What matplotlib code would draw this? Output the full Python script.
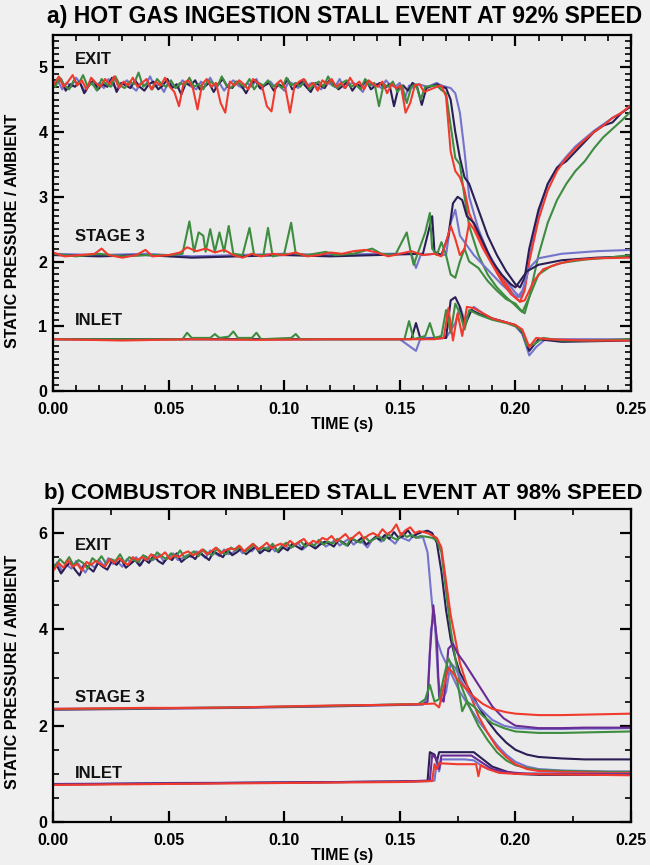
import numpy as np
import matplotlib
matplotlib.use("Agg")
import matplotlib.pyplot as plt
from matplotlib.ticker import MultipleLocator, FormatStrFormatter

# ---------------- DATA ----------------
titles = ["a) HOT GAS INGESTION STALL EVENT AT 92% SPEED",
          "b) COMBUSTOR INBLEED STALL EVENT AT 98% SPEED"]
group_labels = ["EXIT", "STAGE 3", "INLET"]
x_ticks = [0.00, 0.05, 0.10, 0.15, 0.20, 0.25]

# Panel a, EXIT: before the stall sampled every 2 ms (each trace with a small offset),
# then the event part on an explicit time list
a_exit_step = 0.002
a_exit_offsets = [0.0, -0.0005, -0.001, -0.0015]
a_exit_t_event = [0.166, 0.168, 0.170, 0.172, 0.174, 0.176, 0.178, 0.180, 0.184, 0.188,
                  0.192, 0.196, 0.200, 0.202, 0.204, 0.206, 0.210, 0.214, 0.218, 0.222,
                  0.226, 0.230, 0.234, 0.238, 0.242, 0.246, 0.250]

a_exit_blue = [4.72, 4.80, 4.66, 4.76, 4.70, 4.84, 4.74, 4.62, 4.78, 4.70,
               4.76, 4.68, 4.82, 4.72, 4.66, 4.74, 4.80, 4.70, 4.64, 4.76,
               4.72, 4.86, 4.70, 4.74, 4.62, 4.78, 4.72, 4.68, 4.80, 4.74,
               4.70, 4.66, 4.78, 4.72, 4.84, 4.70, 4.76, 4.64, 4.74, 4.80,
               4.72, 4.68, 4.76, 4.70, 4.82, 4.66, 4.74, 4.78, 4.70, 4.72,
               4.64, 4.78, 4.74, 4.68, 4.80, 4.72, 4.76, 4.70, 4.66, 4.78,
               4.74, 4.70, 4.82, 4.68, 4.74, 4.76, 4.70, 4.62, 4.78, 4.72,
               4.74, 4.68, 4.80, 4.72, 4.70, 4.76, 4.50, 4.72, 4.68, 4.74,
               4.72, 4.70,
               4.76, 4.72, 4.70, 4.68, 4.60, 4.30, 3.70, 3.00, 2.50, 2.15, 1.90, 1.70, 1.52, 1.45,
               1.60, 2.05, 2.75, 3.20, 3.45, 3.62, 3.78, 3.90, 4.02, 4.12, 4.22, 4.30, 4.40]
a_exit_dark = [4.68, 4.76, 4.82, 4.64, 4.74, 4.70, 4.78, 4.60, 4.72, 4.80,
               4.66, 4.74, 4.70, 4.84, 4.62, 4.76, 4.72, 4.68, 4.80, 4.70,
               4.64, 4.74, 4.78, 4.66, 4.72, 4.82, 4.68, 4.74, 4.58, 4.76,
               4.72, 4.80, 4.66, 4.70, 4.76, 4.62, 4.74, 4.82, 4.70, 4.68,
               4.78, 4.72, 4.60, 4.74, 4.80, 4.68, 4.72, 4.76, 4.64, 4.74,
               4.70, 4.82, 4.66, 4.72, 4.78, 4.70, 4.62, 4.76, 4.72, 4.68,
               4.80, 4.74, 4.66, 4.72, 4.78, 4.64, 4.74, 4.70, 4.80, 4.66,
               4.72, 4.76, 4.68, 4.74, 4.40, 4.70, 4.72, 4.64, 4.76, 4.70,
               4.42, 4.68,
               4.74, 4.70, 4.68, 4.50, 4.00, 3.60, 3.30, 3.20, 2.80, 2.40, 2.10, 1.85, 1.65, 1.60,
               1.75, 2.20, 2.80, 3.20, 3.45, 3.55, 3.70, 3.85, 4.00, 4.10, 4.15, 4.30, 4.40]
a_exit_green = [4.76, 4.70, 4.84, 4.72, 4.66, 4.80, 4.74, 4.88, 4.70, 4.76,
                4.64, 4.82, 4.74, 4.70, 4.86, 4.72, 4.68, 4.78, 4.74, 4.92,
                4.70, 4.76, 4.66, 4.82, 4.74, 4.70, 4.80, 4.68, 4.76, 4.72,
                4.84, 4.70, 4.74, 4.66, 4.80, 4.76, 4.70, 4.86, 4.72, 4.68,
                4.78, 4.74, 4.70, 4.82, 4.66, 4.76, 4.72, 4.80, 4.70, 4.74,
                4.68, 4.84, 4.72, 4.76, 4.70, 4.80, 4.66, 4.74, 4.78, 4.70,
                4.86, 4.72, 4.68, 4.76, 4.80, 4.70, 4.74, 4.66, 4.82, 4.72,
                4.76, 4.40, 4.74, 4.70, 4.78, 4.62, 4.72, 4.45, 4.70, 4.74,
                4.50, 4.70,
                4.72, 4.65, 4.60, 4.10, 3.60, 3.50, 3.00, 2.55, 2.10, 1.80, 1.60, 1.45, 1.32, 1.25,
                1.20, 1.45, 2.10, 2.60, 2.95, 3.20, 3.40, 3.55, 3.75, 3.92, 4.05, 4.18, 4.32]
a_exit_red = [4.82, 4.74, 4.86, 4.70, 4.78, 4.88, 4.72, 4.80, 4.66, 4.84,
              4.76, 4.70, 4.82, 4.74, 4.86, 4.68, 4.78, 4.72, 4.84, 4.70,
              4.76, 4.82, 4.66, 4.78, 4.72, 4.84, 4.70, 4.62, 4.40, 4.76,
              4.80, 4.68, 4.35, 4.74, 4.82, 4.70, 4.76, 4.45, 4.30, 4.78,
              4.72, 4.80, 4.74, 4.66, 4.82, 4.76, 4.70, 4.40, 4.32, 4.74,
              4.80, 4.68, 4.30, 4.72, 4.78, 4.82, 4.70, 4.76, 4.64, 4.80,
              4.74, 4.82, 4.70, 4.76, 4.68, 4.84, 4.72, 4.78, 4.66, 4.80,
              4.74, 4.70, 4.78, 4.60, 4.74, 4.68, 4.72, 4.30, 4.45, 4.72,
              4.74, 4.62,
              4.70, 4.72, 4.55, 3.70, 3.40, 3.30, 3.10, 2.75, 2.40, 2.10, 1.85, 1.65, 1.45, 1.38,
              1.55, 2.00, 2.65, 3.10, 3.40, 3.60, 3.75, 3.88, 4.00, 4.10, 4.22, 4.30, 4.42]

# Panel a, STAGE 3 (time, value) per trace
a_st3_blue_t = [0.000, 0.020, 0.040, 0.060, 0.080, 0.100, 0.120, 0.140, 0.155, 0.157, 0.159, 0.165,
                0.170, 0.172, 0.174, 0.176, 0.178, 0.182, 0.186, 0.190, 0.194, 0.198, 0.201, 0.203,
                0.206, 0.210, 0.220, 0.235, 0.250]
a_st3_blue_v = [2.12, 2.10, 2.12, 2.08, 2.10, 2.12, 2.10, 2.12, 2.12, 1.90, 2.10, 2.12,
                2.10, 2.60, 2.80, 2.40, 2.30, 2.10, 1.95, 1.80, 1.65, 1.52, 1.45, 1.55,
                1.90, 2.05, 2.12, 2.16, 2.18]
a_st3_dark_t = [0.000, 0.020, 0.040, 0.060, 0.080, 0.100, 0.120, 0.140, 0.160, 0.164, 0.165, 0.168,
                0.171, 0.173, 0.175, 0.177, 0.179, 0.182, 0.186, 0.190, 0.194, 0.198, 0.200, 0.202,
                0.205, 0.210, 0.220, 0.235, 0.250]
a_st3_dark_v = [2.10, 2.08, 2.10, 2.06, 2.08, 2.10, 2.08, 2.10, 2.12, 2.70, 2.15, 2.10,
                2.40, 2.90, 3.00, 2.95, 2.70, 2.60, 2.30, 2.00, 1.80, 1.65, 1.60, 1.70,
                1.85, 1.95, 2.02, 2.06, 2.08]
a_st3_green_t = [0.000, 0.010, 0.020, 0.030, 0.040, 0.050, 0.056, 0.059, 0.061, 0.063, 0.065, 0.066,
                 0.068, 0.070, 0.072, 0.074, 0.076, 0.078, 0.082, 0.085, 0.087, 0.091, 0.093, 0.095,
                 0.100, 0.103, 0.105, 0.110, 0.118, 0.122, 0.130, 0.138, 0.142, 0.148, 0.153, 0.155,
                 0.156, 0.158, 0.161, 0.163, 0.164, 0.166, 0.168, 0.170, 0.172, 0.174, 0.176, 0.178,
                 0.180, 0.184, 0.188, 0.192, 0.196, 0.200, 0.203, 0.206, 0.210, 0.215, 0.220, 0.230,
                 0.240, 0.250]
a_st3_green_v = [2.12, 2.08, 2.12, 2.08, 2.10, 2.10, 2.12, 2.62, 2.15, 2.45, 2.40, 2.15,
                 2.50, 2.15, 2.45, 2.15, 2.55, 2.12, 2.10, 2.52, 2.10, 2.10, 2.52, 2.08,
                 2.12, 2.60, 2.12, 2.10, 2.15, 2.10, 2.12, 2.20, 2.12, 2.10, 2.45, 2.10,
                 1.95, 2.15, 2.45, 2.75, 2.20, 2.10, 2.30, 2.10, 1.80, 1.75, 2.00, 2.20,
                 2.00, 1.90, 1.70, 1.55, 1.42, 1.35, 1.22, 1.45, 1.80, 1.92, 1.98, 2.03,
                 2.06, 2.10]
a_st3_red_t = [0.000, 0.005, 0.012, 0.018, 0.021, 0.024, 0.030, 0.036, 0.040, 0.043, 0.050, 0.055,
               0.058, 0.062, 0.066, 0.070, 0.074, 0.078, 0.082, 0.086, 0.090, 0.095, 0.100, 0.105,
               0.110, 0.115, 0.120, 0.125, 0.130, 0.135, 0.140, 0.145, 0.150, 0.155, 0.160, 0.165,
               0.168, 0.170, 0.172, 0.174, 0.176, 0.178, 0.180, 0.182, 0.186, 0.190, 0.194, 0.198,
               0.202, 0.204, 0.208, 0.212, 0.218, 0.225, 0.235, 0.250]
a_st3_red_v = [2.14, 2.08, 2.10, 2.12, 2.20, 2.10, 2.06, 2.10, 2.18, 2.08, 2.10, 2.14,
               2.22, 2.16, 2.20, 2.14, 2.18, 2.10, 2.06, 2.12, 2.08, 2.12, 2.10, 2.14,
               2.08, 2.10, 2.14, 2.12, 2.16, 2.18, 2.14, 2.08, 2.12, 2.16, 2.10, 2.12,
               2.08, 2.30, 2.55, 2.35, 2.10, 2.20, 2.60, 2.50, 2.20, 1.95, 1.70, 1.50,
               1.38, 1.40, 1.70, 1.88, 1.96, 2.02, 2.05, 2.06]

# Panel a, INLET
a_in_blue_t = [0.000, 0.050, 0.100, 0.150, 0.157, 0.159, 0.170, 0.174, 0.176, 0.178, 0.182, 0.186,
               0.190, 0.196, 0.200, 0.203, 0.206, 0.209, 0.213, 0.250]
a_in_blue_v = [0.80, 0.80, 0.80, 0.80, 0.62, 0.82, 0.82, 1.05, 1.30, 1.10, 1.30, 1.20,
               1.12, 1.06, 1.00, 0.88, 0.55, 0.68, 0.80, 0.80]
a_in_dark_t = [0.000, 0.050, 0.100, 0.155, 0.157, 0.159, 0.170, 0.172, 0.174, 0.176, 0.178, 0.181,
               0.185, 0.190, 0.196, 0.200, 0.203, 0.206, 0.210, 0.220, 0.250]
a_in_dark_v = [0.80, 0.80, 0.80, 0.80, 1.05, 0.80, 0.82, 1.40, 1.45, 1.30, 1.00, 1.25,
               1.18, 1.12, 1.06, 1.02, 0.90, 0.62, 0.80, 0.76, 0.78]
a_in_green_t = [0.000, 0.020, 0.040, 0.056, 0.058, 0.060, 0.068, 0.070, 0.072, 0.076, 0.078, 0.080,
                0.086, 0.088, 0.090, 0.103, 0.105, 0.107, 0.120, 0.140, 0.152, 0.154, 0.156, 0.161,
                0.163, 0.165, 0.168, 0.170, 0.172, 0.174, 0.176, 0.178, 0.180, 0.184, 0.190, 0.196,
                0.200, 0.203, 0.205, 0.208, 0.212, 0.220, 0.235, 0.250]
a_in_green_v = [0.80, 0.80, 0.80, 0.80, 0.90, 0.82, 0.82, 0.88, 0.82, 0.84, 0.92, 0.82,
                0.82, 0.90, 0.80, 0.82, 0.88, 0.80, 0.80, 0.80, 0.80, 1.08, 0.80, 0.85,
                1.05, 0.82, 0.85, 1.25, 0.90, 1.35, 1.20, 0.95, 1.25, 1.18, 1.10, 1.05,
                1.00, 0.92, 0.70, 0.72, 0.82, 0.78, 0.78, 0.80]
a_in_red_t = [0.000, 0.030, 0.060, 0.090, 0.120, 0.150, 0.165, 0.169, 0.171, 0.173, 0.175, 0.177,
              0.179, 0.182, 0.186, 0.190, 0.196, 0.200, 0.203, 0.206, 0.209, 0.214, 0.230, 0.250]
a_in_red_v = [0.80, 0.78, 0.80, 0.79, 0.80, 0.80, 0.80, 0.82, 1.28, 0.78, 1.20, 0.85,
              1.30, 1.28, 1.20, 1.12, 1.06, 1.02, 0.95, 0.68, 0.82, 0.80, 0.78, 0.78]

# Panel b, EXIT
b_exit_step = 0.002
b_exit_offsets = [0.0, -0.0005, -0.001, -0.0015]
b_exit_t_event = [0.162, 0.164, 0.166, 0.168, 0.170, 0.172, 0.174, 0.176, 0.180, 0.184,
                  0.188, 0.192, 0.196, 0.200, 0.205, 0.210, 0.220, 0.230, 0.240, 0.250]

b_exit_blue = [5.28, 5.40, 5.20, 5.34, 5.26, 5.42, 5.30, 5.18, 5.36, 5.28,
               5.44, 5.32, 5.48, 5.36, 5.40, 5.30, 5.46, 5.38, 5.50, 5.34,
               5.52, 5.42, 5.46, 5.56, 5.40, 5.50, 5.58, 5.44, 5.48, 5.54,
               5.50, 5.62, 5.56, 5.48, 5.64, 5.58, 5.52, 5.66, 5.56, 5.60,
               5.70, 5.58, 5.66, 5.62, 5.72, 5.60, 5.68, 5.74, 5.62, 5.66,
               5.76, 5.68, 5.72, 5.80, 5.66, 5.74, 5.78, 5.70, 5.82, 5.72,
               5.78, 5.86, 5.74, 5.82, 5.88, 5.76, 5.84, 5.80, 5.70, 5.86,
               5.90, 5.82, 5.94, 5.86, 5.78, 5.92, 5.88, 5.84, 5.96, 5.90,
               5.92,
               5.60, 4.50, 3.80, 3.50, 3.30, 3.10, 2.90, 2.70, 2.40, 2.10, 1.85, 1.60, 1.40, 1.25,
               1.15, 1.10, 1.07, 1.06, 1.05, 1.05]
b_exit_dark = [5.22, 5.34, 5.16, 5.30, 5.40, 5.24, 5.12, 5.36, 5.28, 5.20,
               5.38, 5.30, 5.24, 5.42, 5.34, 5.46, 5.28, 5.36, 5.44, 5.32,
               5.46, 5.38, 5.54, 5.42, 5.36, 5.50, 5.44, 5.58, 5.40, 5.48,
               5.54, 5.46, 5.60, 5.52, 5.44, 5.62, 5.56, 5.50, 5.66, 5.54,
               5.60, 5.68, 5.56, 5.64, 5.72, 5.58, 5.66, 5.62, 5.74, 5.60,
               5.70, 5.64, 5.78, 5.72, 5.66, 5.80, 5.74, 5.68, 5.76, 5.82,
               5.78, 5.72, 5.86, 5.80, 5.74, 5.88, 5.82, 5.90, 5.76, 5.84,
               5.92, 5.86, 5.96, 5.88, 6.02, 5.90, 5.94, 6.06, 5.92, 5.98,
               6.02,
               6.05, 6.00, 5.80, 5.20, 4.40, 3.80, 3.40, 3.10, 2.75, 2.40, 2.10, 1.85, 1.65, 1.50,
               1.40, 1.35, 1.32, 1.30, 1.30, 1.30]
b_exit_green = [5.42, 5.30, 5.46, 5.36, 5.50, 5.32, 5.44, 5.38, 5.26, 5.48,
                5.40, 5.52, 5.36, 5.46, 5.42, 5.56, 5.38, 5.50, 5.44, 5.40,
                5.54, 5.48, 5.44, 5.60, 5.52, 5.46, 5.58, 5.50, 5.64, 5.48,
                5.56, 5.62, 5.52, 5.66, 5.58, 5.54, 5.68, 5.60, 5.56, 5.70,
                5.64, 5.72, 5.60, 5.68, 5.76, 5.64, 5.70, 5.66, 5.78, 5.62,
                5.74, 5.80, 5.70, 5.76, 5.84, 5.72, 5.78, 5.74, 5.86, 5.76,
                5.82, 5.78, 5.88, 5.80, 5.74, 5.90, 5.84, 5.80, 5.92, 5.82,
                5.88, 5.94, 5.84, 5.98, 5.90, 5.86, 6.00, 5.92, 5.96, 5.90,
                5.94,
                5.92, 5.90, 5.85, 5.60, 4.80, 4.00, 3.40, 2.90, 2.40, 2.00, 1.70, 1.45, 1.28, 1.18,
                1.12, 1.08, 1.06, 1.05, 1.04, 1.04]
b_exit_red = [5.32, 5.24, 5.38, 5.28, 5.44, 5.30, 5.36, 5.22, 5.40, 5.34,
              5.42, 5.36, 5.30, 5.46, 5.38, 5.48, 5.40, 5.34, 5.50, 5.44,
              5.50, 5.44, 5.56, 5.48, 5.52, 5.60, 5.46, 5.54, 5.50, 5.58,
              5.62, 5.54, 5.58, 5.66, 5.56, 5.62, 5.70, 5.58, 5.64, 5.68,
              5.66, 5.74, 5.62, 5.70, 5.78, 5.66, 5.72, 5.80, 5.68, 5.74,
              5.78, 5.72, 5.84, 5.76, 5.82, 5.88, 5.76, 5.84, 5.80, 5.90,
              5.86, 5.94, 5.82, 5.90, 5.98, 5.86, 5.94, 6.02, 5.88, 5.96,
              6.00, 5.94, 6.08, 5.98, 6.04, 6.18, 5.96, 6.06, 6.12, 6.00,
              6.04,
              6.00, 5.95, 5.90, 5.70, 5.00, 4.30, 3.80, 3.30, 2.70, 2.20, 1.85, 1.55, 1.35, 1.20,
              1.10, 1.06, 1.04, 1.03, 1.02, 1.02]

# Panel b, STAGE 3
b_st3_blue_t = [0.000, 0.040, 0.080, 0.120, 0.160, 0.162, 0.1635, 0.165, 0.1665, 0.168, 0.170, 0.172,
                0.174, 0.177, 0.180, 0.185, 0.190, 0.195, 0.200, 0.210, 0.220, 0.230, 0.240, 0.250]
b_st3_blue_v = [2.35, 2.36, 2.38, 2.41, 2.45, 2.60, 4.00, 4.30, 3.00, 2.50, 2.70, 3.30,
                3.20, 2.90, 2.65, 2.35, 2.12, 2.00, 1.95, 1.93, 1.93, 1.94, 1.94, 1.95]
b_st3_dark_t = [0.000, 0.040, 0.080, 0.120, 0.160, 0.162, 0.163, 0.1645, 0.166, 0.167, 0.169, 0.171,
                0.173, 0.175, 0.178, 0.182, 0.186, 0.190, 0.195, 0.200, 0.210, 0.220, 0.230, 0.240,
                0.250]
b_st3_dark_v = [2.33, 2.35, 2.37, 2.40, 2.44, 2.50, 3.50, 4.50, 3.80, 2.60, 2.50, 3.60,
                3.70, 3.50, 3.30, 3.00, 2.70, 2.40, 2.15, 2.00, 1.95, 1.95, 1.96, 1.96, 1.96]
b_st3_green_t = [0.000, 0.040, 0.080, 0.120, 0.158, 0.161, 0.163, 0.165, 0.167, 0.169, 0.171, 0.173,
                 0.175, 0.177, 0.179, 0.182, 0.186, 0.190, 0.195, 0.200, 0.210, 0.220, 0.230, 0.240,
                 0.250]
b_st3_green_v = [2.34, 2.36, 2.38, 2.41, 2.45, 2.55, 2.85, 2.50, 2.55, 3.00, 3.40, 3.20,
                 2.90, 2.30, 2.50, 2.40, 2.20, 2.05, 1.95, 1.88, 1.85, 1.85, 1.86, 1.87, 1.88]
b_st3_red_t = [0.000, 0.020, 0.040, 0.060, 0.080, 0.100, 0.120, 0.140, 0.160, 0.165, 0.167, 0.169,
               0.171, 0.173, 0.175, 0.178, 0.182, 0.186, 0.190, 0.196, 0.200, 0.210, 0.220, 0.230,
               0.240, 0.250]
b_st3_red_v = [2.35, 2.36, 2.37, 2.37, 2.38, 2.40, 2.42, 2.43, 2.45, 2.46, 2.38, 2.80,
               3.20, 3.10, 2.95, 2.80, 2.60, 2.45, 2.35, 2.28, 2.25, 2.22, 2.22, 2.23,
               2.24, 2.25]

# Panel b, INLET
b_in_blue_t = [0.000, 0.050, 0.100, 0.150, 0.165, 0.166, 0.167, 0.168, 0.178, 0.182, 0.186, 0.192,
               0.200, 0.250]
b_in_blue_v = [0.79, 0.81, 0.82, 0.84, 0.86, 1.25, 1.05, 1.30, 1.30, 1.28, 1.15, 1.05,
               1.01, 1.00]
b_in_dark_t = [0.000, 0.050, 0.100, 0.150, 0.162, 0.163, 0.165, 0.166, 0.167, 0.182, 0.186, 0.190,
               0.196, 0.200, 0.210, 0.250]
b_in_dark_v = [0.78, 0.80, 0.82, 0.84, 0.85, 1.45, 1.40, 1.25, 1.45, 1.45, 1.30, 1.15,
               1.05, 1.00, 0.98, 0.98]
b_in_green_t = [0.000, 0.050, 0.100, 0.150, 0.163, 0.164, 0.166, 0.167, 0.168, 0.181, 0.186, 0.190,
                0.196, 0.205, 0.250]
b_in_green_v = [0.78, 0.80, 0.82, 0.84, 0.86, 1.40, 1.30, 1.10, 1.38, 1.38, 1.22, 1.10,
                1.04, 1.00, 0.99]
b_in_red_t = [0.000, 0.050, 0.100, 0.150, 0.164, 0.165, 0.166, 0.167, 0.175, 0.180, 0.183, 0.184,
              0.185, 0.188, 0.193, 0.200, 0.250]
b_in_red_v = [0.77, 0.79, 0.81, 0.83, 0.85, 1.20, 1.10, 1.22, 1.20, 1.20, 1.20, 0.95,
              1.18, 1.10, 1.02, 1.00, 0.97]


def exit_times(vals, step, offset, event_t):
    n_flat = len(vals) - len(event_t)
    return [round(step * i + offset, 5) for i in range(n_flat)] + event_t


# ---------------- STYLE ----------------
C_BLUE = "#7474cc"
C_DARK = "#2b1d55"
C_VIOLET = "#6a2c94"
C_GREEN = "#3d8c40"
C_RED = "#f03a2e"
FONT = ["Liberation Sans", "DejaVu Sans"]

fig = plt.figure(figsize=(6.5, 8.65), dpi=100, facecolor="#f0f0f0")
ax_a = fig.add_axes([53 / 650, 1 - 391 / 865, 578 / 650, 356 / 865])
ax_b = fig.add_axes([53 / 650, 1 - 822 / 865, 578 / 650, 313 / 865])


def style_axes(ax, ymax, ymajor, yminor, xminor, title, title_x, title_y, title_fs, ylab_y):
    ax.set_facecolor("#ebebeb")
    ax.set_xlim(0, 0.25)
    ax.set_ylim(0, ymax)
    ax.xaxis.set_major_locator(MultipleLocator(0.05))
    ax.xaxis.set_minor_locator(MultipleLocator(xminor))
    ax.yaxis.set_major_locator(MultipleLocator(ymajor))
    ax.yaxis.set_minor_locator(MultipleLocator(yminor))
    ax.xaxis.set_major_formatter(FormatStrFormatter("%.2f"))
    ax.yaxis.set_major_formatter(FormatStrFormatter("%d"))
    ax.tick_params(which="both", direction="in", top=True, right=True, colors="black")
    ax.tick_params(which="major", length=8, width=1.6, labelsize=11.5)
    ax.tick_params(axis="x", which="major", pad=8)
    ax.tick_params(axis="y", which="major", pad=4)
    ax.tick_params(which="minor", length=4, width=1.2)
    for lab in ax.get_xticklabels() + ax.get_yticklabels():
        lab.set_fontweight("bold")
        lab.set_family(FONT)
    for sp in ax.spines.values():
        sp.set_linewidth(1.6)
        sp.set_color("black")
    ax.set_ylabel("STATIC PRESSURE / AMBIENT", fontsize=11.5, fontweight="bold", family=FONT)
    ax.yaxis.set_label_coords(-0.057, ylab_y)
    ax.set_xlabel("TIME (s)", fontsize=11.5, fontweight="bold", family=FONT, labelpad=0)
    fig.text(title_x / 650, title_y, title, fontsize=title_fs, fontweight="bold", family=FONT,
             ha="left", va="center", color="black")


style_axes(ax_a, 5.5, 1, 0.1, 0.01, titles[0], 47, 1 - 17 / 865, 16.6, 0.45)
style_axes(ax_b, 6.5, 2, 0.5, 0.025, titles[1], 44, 1 - 493 / 865, 16.0, 0.48)

LW = 1.5
# Panel a
for vals, off, c in zip([a_exit_blue, a_exit_dark, a_exit_green, a_exit_red], a_exit_offsets,
                        [C_BLUE, C_DARK, C_GREEN, C_RED]):
    ax_a.plot(exit_times(vals, a_exit_step, off, a_exit_t_event), vals, color=c, lw=LW)
for t, v, c in [(a_st3_blue_t, a_st3_blue_v, C_BLUE), (a_st3_dark_t, a_st3_dark_v, C_DARK),
                (a_st3_green_t, a_st3_green_v, C_GREEN), (a_st3_red_t, a_st3_red_v, C_RED),
                (a_in_blue_t, a_in_blue_v, C_BLUE), (a_in_dark_t, a_in_dark_v, C_DARK),
                (a_in_green_t, a_in_green_v, C_GREEN), (a_in_red_t, a_in_red_v, C_RED)]:
    ax_a.plot(t, v, color=c, lw=LW)

# Panel b
for vals, off, c in zip([b_exit_blue, b_exit_dark, b_exit_green, b_exit_red], b_exit_offsets,
                        [C_BLUE, C_DARK, C_GREEN, C_RED]):
    ax_b.plot(exit_times(vals, b_exit_step, off, b_exit_t_event), vals, color=c, lw=LW)
for t, v, c in [(b_st3_blue_t, b_st3_blue_v, C_BLUE), (b_st3_dark_t, b_st3_dark_v, C_VIOLET),
                (b_st3_green_t, b_st3_green_v, C_GREEN), (b_st3_red_t, b_st3_red_v, C_RED),
                (b_in_blue_t, b_in_blue_v, C_BLUE), (b_in_dark_t, b_in_dark_v, C_DARK),
                (b_in_green_t, b_in_green_v, C_VIOLET), (b_in_red_t, b_in_red_v, C_RED)]:
    ax_b.plot(t, v, color=c, lw=LW)

# group labels
for ax, ys in [(ax_a, [5.12, 2.38, 1.09]), (ax_b, [5.75, 2.58, 1.0])]:
    for lab, y in zip(group_labels, ys):
        ax.text(0.0095, y, lab, fontsize=12, fontweight="bold", family=FONT,
                ha="left", va="center", color="#111111")

fig.savefig("out.png", dpi=100, facecolor=fig.get_facecolor())
